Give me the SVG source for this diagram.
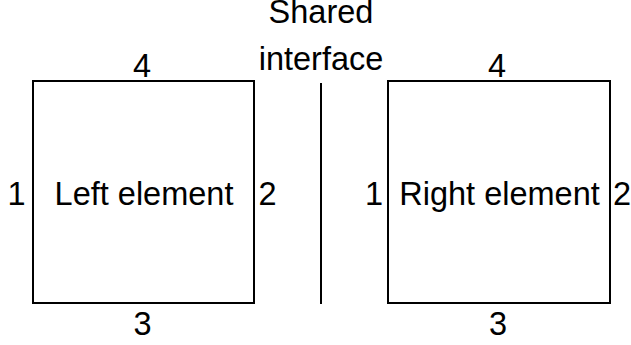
<svg xmlns="http://www.w3.org/2000/svg" width="631" height="345" viewBox="0 0 631 345">
  <style>
    .box { fill: #ffffff; stroke: #000000; stroke-width: 2; }
    .edge { stroke: #000000; stroke-width: 2; fill: none; }
    text { font-family: "Liberation Sans", Arial, sans-serif; font-size: 32.5px; fill: #000000; }
    .mid { text-anchor: middle; }
  </style>
  <rect width="631" height="345" fill="#ffffff"/>

  <!-- Left element with numbered sides -->
  <g id="left-element">
    <rect class="box" x="33" y="81" width="221" height="222"/>
    <text class="mid" x="144" y="205">Left element</text>
    <text class="mid" x="16.5" y="205">1</text>
    <text class="mid" x="267.5" y="205">2</text>
    <text class="mid" x="142.5" y="335">3</text>
    <text class="mid" x="142" y="77">4</text>
  </g>

  <!-- Right element with numbered sides -->
  <g id="right-element">
    <rect class="box" x="388" y="81" width="222" height="222"/>
    <text class="mid" x="499.5" y="205">Right element</text>
    <text class="mid" x="374" y="205">1</text>
    <text class="mid" x="622" y="205">2</text>
    <text class="mid" x="498" y="335">3</text>
    <text class="mid" x="497" y="77">4</text>
  </g>

  <!-- Shared interface between the two elements -->
  <g id="shared-interface">
    <text class="mid" x="321" y="23">Shared</text>
    <text class="mid" x="321" y="70">interface</text>
  </g>

  <g id="connectors">
    <line class="edge" x1="321" y1="83" x2="321" y2="304"/>
  </g>
</svg>
